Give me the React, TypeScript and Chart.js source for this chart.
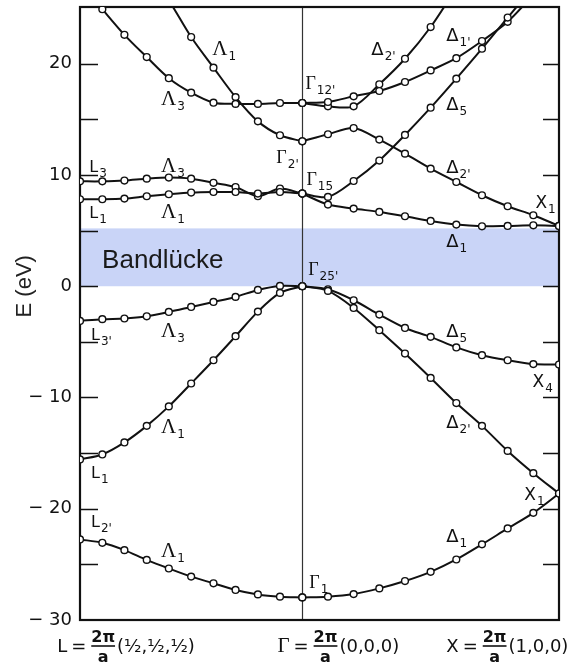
import React, { useEffect, useRef } from "react";
import { Chart, registerables } from "chart.js";

Chart.register(...registerables);

// k-path positions in units of 2π/a: L (−√3/2) … Γ (0) … X (1)
const kLG = [-0.866, -0.779, -0.693, -0.606, -0.52, -0.433, -0.346, -0.26, -0.173, -0.087, 0];
const kGX = [0, 0.1, 0.2, 0.3, 0.4, 0.5, 0.6, 0.7, 0.8, 0.9, 1];

// Energies along L → Γ (eV)
const lgL2Lambda1 = [-22.76, -23.06, -23.72, -24.6, -25.37, -26.1, -26.7, -27.3, -27.7, -27.9, -27.97];
const lgL1Lambda1 = [-15.57, -15.12, -14.04, -12.55, -10.8, -8.74, -6.65, -4.49, -2.28, -0.6, 0];
const lgL3pLambda3 = [-3.12, -2.96, -2.9, -2.7, -2.31, -1.86, -1.41, -0.96, -0.33, 0.03, 0];
const lgL1cLambda1 = [7.82, 7.82, 7.88, 8.09, 8.27, 8.42, 8.47, 8.47, 8.33, 8.47, 8.33];
const lgL3Lambda3 = [9.43, 9.43, 9.5, 9.67, 9.77, 9.67, 9.3, 8.92, 8.09, 8.78, 8.33];
const lgUpperLambda3 = [27.3, 24.9, 22.6, 20.6, 18.7, 17.4, 16.5, 16.39, 16.39, 16.47, 16.47];
const lgUpperLambda1 = [null, null, null, 28.5, 25.7, 22.4, 19.65, 17.0, 14.82, 13.57, 13.03];

// Energies along Γ → X (eV)
const gxDelta1Low = [-27.97, -27.9, -27.67, -27.16, -26.5, -25.67, -24.56, -23.2, -21.77, -20.37, -18.63];
const gxDelta2pVal = [0, -0.42, -1.95, -3.95, -6.05, -8.24, -10.5, -12.55, -14.8, -16.8, -18.63];
const gxDelta5Val = [0, -0.27, -1.26, -2.55, -3.75, -4.55, -5.5, -6.2, -6.65, -7.0, -7.04];
const gxDelta1Cond = [8.33, 7.34, 6.98, 6.68, 6.29, 5.87, 5.54, 5.39, 5.42, 5.48, 5.42];
const gxDelta5Cond = [8.33, 8.03, 9.46, 11.3, 13.6, 16.05, 18.66, 21.35, 24.15, 26.9, 29.7];
const gxDelta2pMid = [13.03, 13.66, 14.22, 13.18, 11.92, 10.57, 9.37, 8.18, 7.19, 6.38, 5.42];
const gxDelta1pUp = [16.47, 16.56, 17.07, 17.55, 18.36, 19.4, 20.5, 22.04, 23.77, 26.2];
const gxDelta2pUp = [16.47, 16.17, 16.17, 18.15, 20.45, 23.3, 26.8];

// Band gap (eV)
const gapBottom = 0;
const gapTop = 5.2;
const gapText = "Bandlücke";

// Energy axis
const yMin = -30;
const yMax = 25.1;
const yTicks = [-30, -20, -10, 0, 10, 20];
const yTickText = ["\u2212 30", "\u2212 20", "\u2212 10", "0", "10", "20"];
const yTickMarks = [-25, -20, -15, -10, -5, 0, 5, 10, 15, 20];
const yTitle = "E (eV)";

// Symmetry labels on the bands: symbol, subscript, k, E
const bandLabels: [string, string, number, number][] = [
  ["Λ", "1", -0.351, 20.8],
  ["Λ", "3", -0.55, 16.3],
  ["Γ", "2'", -0.101, 11.1],
  ["L", "3", -0.83, 10.28],
  ["Λ", "3", -0.55, 10.28],
  ["L", "1", -0.83, 6.14],
  ["Λ", "1", -0.55, 6.14],
  ["L", "3'", -0.823, -4.8],
  ["Λ", "3", -0.55, -4.6],
  ["Λ", "1", -0.55, -13.2],
  ["L", "1", -0.823, -17.2],
  ["L", "2'", -0.823, -21.6],
  ["Λ", "1", -0.55, -24.3],
  ["Γ", "12'", 0.012, 17.7],
  ["Δ", "2'", 0.269, 20.8],
  ["Δ", "1'", 0.561, 22.0],
  ["Δ", "5", 0.561, 15.85],
  ["Δ", "2'", 0.561, 10.2],
  ["Γ", "15", 0.016, 9.1],
  ["X", "1", 0.908, 7.04],
  ["Δ", "1", 0.561, 3.53],
  ["Γ", "25'", 0.023, 1.0],
  ["Δ", "5", 0.561, -4.55],
  ["X", "4", 0.897, -9.05],
  ["Δ", "2'", 0.561, -12.7],
  ["X", "1", 0.865, -19.2],
  ["Δ", "1", 0.561, -23.0],
  ["Γ", "1", 0.027, -27.1],
];

// k-point captions under the axis: name, coordinate triple, start k
const kPointCaptions: [string, string, number][] = [
  ["L", "(½,½,½)", -0.955],
  ["Γ", "(0,0,0)", -0.097],
  ["X", "(1,0,0)", 0.561],
];

const INK = "#111";

const symbolFont: Record<string, string> = {
  "Λ": '21px "Liberation Serif"',
  "Γ": '18px "Liberation Serif"',
  "Δ": '18px "DejaVu Sans"',
  L: '16px "DejaVu Sans"',
  X: '17px "DejaVu Sans"',
};

function toPoints(k: number[], vals: (number | null)[]) {
  const pts: { x: number; y: number }[] = [];
  vals.forEach((v, i) => {
    if (v !== null) pts.push({ x: k[i], y: v });
  });
  return pts;
}

const decorPlugin = {
  id: "bandDecor",
  beforeDatasetsDraw(chart: any) {
    const { ctx, chartArea: a, scales } = chart;
    const x = scales.x;
    const y = scales.y;
    ctx.save();

    // band gap
    const yt = y.getPixelForValue(gapTop);
    const yb = y.getPixelForValue(gapBottom);
    ctx.fillStyle = "#C9D4F7";
    ctx.fillRect(a.left, yt, a.right - a.left, yb - yt);
    ctx.fillStyle = "#1a1a1a";
    ctx.font = '26px "Liberation Sans"';
    ctx.textAlign = "left";
    ctx.textBaseline = "alphabetic";
    ctx.fillText(gapText, x.getPixelForValue(-0.78), y.getPixelForValue(1.65));

    // Γ line
    const gx = Math.round(x.getPixelForValue(0)) + 0.5;
    ctx.strokeStyle = "#333";
    ctx.lineWidth = 1.2;
    ctx.beginPath();
    ctx.moveTo(gx, a.top);
    ctx.lineTo(gx, a.bottom);
    ctx.stroke();

    // frame
    ctx.strokeStyle = INK;
    ctx.lineWidth = 2.2;
    ctx.strokeRect(a.left, a.top, a.right - a.left, a.bottom - a.top);

    // inward tick marks
    ctx.lineWidth = 1.6;
    yTickMarks.forEach((v) => {
      const py = Math.round(y.getPixelForValue(v)) + 0.5;
      ctx.beginPath();
      ctx.moveTo(a.left, py);
      ctx.lineTo(a.left + 18, py);
      ctx.moveTo(a.right - 16, py);
      ctx.lineTo(a.right, py);
      ctx.stroke();
    });

    // axis title
    ctx.save();
    ctx.translate(a.left - 55, y.getPixelForValue(0));
    ctx.rotate(-Math.PI / 2);
    ctx.textAlign = "center";
    ctx.textBaseline = "middle";
    ctx.font = '22px "Liberation Sans"';
    ctx.fillStyle = "#222";
    ctx.fillText(yTitle, 0, 0);
    ctx.restore();

    ctx.restore();
  },
  afterDatasetsDraw(chart: any) {
    const { ctx, chartArea: a, scales } = chart;
    const x = scales.x;
    const y = scales.y;
    ctx.save();
    ctx.fillStyle = INK;
    ctx.textAlign = "left";
    ctx.textBaseline = "alphabetic";

    bandLabels.forEach(([sym, sub, k, e]) => {
      const px = x.getPixelForValue(k);
      const py = y.getPixelForValue(e);
      ctx.font = symbolFont[sym];
      ctx.fillText(sym, px, py);
      const w = ctx.measureText(sym).width;
      ctx.font = '12px "DejaVu Sans"';
      ctx.fillText(sub, px + w + 1, py + 5);
    });

    // k-point captions
    const base = a.bottom + 32;
    kPointCaptions.forEach(([name, triple, k]) => {
      let px = x.getPixelForValue(k);
      ctx.textAlign = "left";
      ctx.font = name === "Γ" ? '21px "Liberation Serif"' : '18px "DejaVu Sans"';
      ctx.fillText(name, px, base);
      px += ctx.measureText(name).width + 4;
      ctx.font = '18px "DejaVu Sans"';
      ctx.fillText("=", px, base);
      px += ctx.measureText("=").width + 5;
      ctx.font = 'bold 16px "DejaVu Sans"';
      const wn = ctx.measureText("2π").width;
      ctx.textAlign = "center";
      ctx.fillText("2π", px + wn / 2, base - 10);
      ctx.lineWidth = 1.6;
      ctx.strokeStyle = INK;
      ctx.beginPath();
      ctx.moveTo(px, base - 6);
      ctx.lineTo(px + wn, base - 6);
      ctx.stroke();
      ctx.font = 'bold 16px "DejaVu Sans"';
      ctx.fillText("a", px + wn / 2, base + 10);
      px += wn + 2;
      ctx.textAlign = "left";
      ctx.font = '18px "DejaVu Sans"';
      ctx.fillText(triple, px, base);
    });

    ctx.restore();
  },
};

export default function App() {
  const canvasRef = useRef<HTMLCanvasElement | null>(null);

  useEffect(() => {
    const canvas = canvasRef.current;
    if (!canvas) return;

    const lgBands = [lgL2Lambda1, lgL1Lambda1, lgL3pLambda3, lgL1cLambda1, lgL3Lambda3, lgUpperLambda3, lgUpperLambda1];
    const gxBands = [gxDelta1Low, gxDelta2pVal, gxDelta5Val, gxDelta1Cond, gxDelta5Cond, gxDelta2pMid, gxDelta1pUp, gxDelta2pUp];

    const style = {
      borderColor: INK,
      borderWidth: 2,
      pointRadius: 3.4,
      pointBackgroundColor: "#fff",
      pointBorderColor: INK,
      pointBorderWidth: 1.4,
      tension: 0.3,
      fill: false,
    };

    const datasets = [
      ...lgBands.map((b) => ({ ...style, data: toPoints(kLG, b) })),
      ...gxBands.map((b) => ({ ...style, data: toPoints(kGX, b) })),
    ];

    const chart = new Chart(canvas, {
      type: "line",
      data: { datasets },
      options: {
        animation: false,
        responsive: false,
        maintainAspectRatio: false,
        layout: { padding: { left: 0, top: 7, right: 12, bottom: 46 } },
        plugins: { legend: { display: false }, tooltip: { enabled: false } },
        events: [],
        scales: {
          x: { type: "linear", min: -0.866, max: 1, display: false },
          y: {
            type: "linear",
            min: yMin,
            max: yMax,
            grid: { display: false, drawTicks: false },
            border: { display: false },
            afterBuildTicks: (scale: any) => {
              scale.ticks = yTicks.map((v) => ({ value: v }));
            },
            afterFit: (scale: any) => {
              scale.width = 80;
              scale.paddingTop = 0;
              scale.paddingBottom = 0;
            },
            ticks: {
              padding: 8,
              color: INK,
              font: { family: "DejaVu Sans", size: 18 },
              callback: (v: any) => {
                const i = yTicks.indexOf(Number(v));
                return i >= 0 ? yTickText[i] : "";
              },
            },
          },
        },
      },
      plugins: [decorPlugin],
    } as any);

    return () => chart.destroy();
  }, []);

  return (
    <div style={{ position: "absolute", left: 0, top: 0, width: 571, height: 666, background: "#fff" }}>
      <canvas ref={canvasRef} width={571} height={666} style={{ width: 571, height: 666, display: "block" }} />
    </div>
  );
}
